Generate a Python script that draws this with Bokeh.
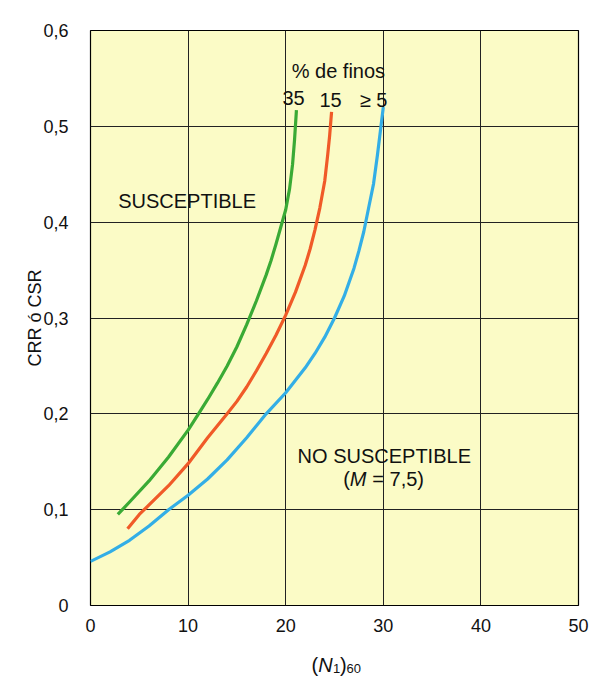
import numpy as np
from bokeh.plotting import figure
from bokeh.layouts import column
from bokeh.models import FixedTicker, Label, Range1d
from bokeh.core.properties import value
from bokeh.embed import file_html
from bokeh.resources import INLINE

# ---- data ----
n_clean = [0, 2, 4, 6, 8, 10, 12, 14, 16, 18, 20, 21, 22, 23, 24, 25, 26, 27,
           27.5, 28, 28.5, 29, 29.4, 29.7, 30]
crr_clean = [0.046, 0.056, 0.068, 0.083, 0.100, 0.115, 0.132, 0.152, 0.175, 0.200,
             0.222, 0.235, 0.248, 0.263, 0.280, 0.300, 0.323, 0.352,
             0.370, 0.390, 0.415, 0.440, 0.470, 0.495, 0.520]

n_15 = [3.8, 5, 6, 8, 10, 12, 14, 15, 16, 17, 18, 19, 20, 21, 22, 22.5, 23, 23.5,
        24, 24.3, 24.5, 24.7]
crr_15 = [0.080, 0.095, 0.105, 0.125, 0.148, 0.175, 0.200, 0.213, 0.228, 0.245,
          0.263, 0.282, 0.303, 0.327, 0.355, 0.372, 0.392, 0.415,
          0.443, 0.470, 0.490, 0.515]

n_35 = [2.8, 4, 6, 8, 10, 11, 12, 13, 14, 15, 16, 17, 18, 18.5, 19, 19.5, 20,
        20.4, 20.7, 20.9, 21.1]
crr_35 = [0.095, 0.108, 0.130, 0.155, 0.183, 0.199, 0.215, 0.232, 0.250, 0.270,
          0.293, 0.318, 0.345, 0.360, 0.377, 0.395, 0.413,
          0.435, 0.460, 0.485, 0.517]

x_ticks = [0, 10, 20, 30, 40, 50]
y_ticks = [0, 0.1, 0.2, 0.3, 0.4, 0.5, 0.6]
y_tick_labels = ["0", "0,1", "0,2", "0,3", "0,4", "0,5", "0,6"]

FONT = "Liberation Sans"
INK = "#111111"

p = figure(width=591, height=636, output_backend="svg", toolbar_location=None,
           x_range=Range1d(0, 50), y_range=Range1d(0, 0.6),
           min_border_left=90, min_border_right=13, min_border_top=30, min_border_bottom=31)
p.background_fill_color = "#FBFBC6"
p.border_fill_color = "white"
p.outline_line_color = "black"
p.outline_line_width = 1.2

for ax in (p.xaxis[0], p.yaxis[0]):
    ax.major_tick_line_color = None
    ax.minor_tick_line_color = None
    ax.axis_line_color = None
    ax.major_label_text_font = FONT
    ax.major_label_text_font_size = "18px"
    ax.major_label_text_color = INK

p.xaxis.ticker = FixedTicker(ticks=x_ticks)
p.yaxis.ticker = FixedTicker(ticks=y_ticks)
p.yaxis.major_label_overrides = {t: l for t, l in zip(y_ticks, y_tick_labels)}
p.xaxis.major_label_standoff = 7
p.yaxis.major_label_standoff = 16

p.yaxis.axis_label = "CRR \u00f3 CSR"
p.yaxis.axis_label_text_font = FONT
p.yaxis.axis_label_text_font_size = "18px"
p.yaxis.axis_label_text_font_style = "normal"
p.yaxis.axis_label_text_color = INK
p.yaxis.axis_label_standoff = -5

p.xgrid.ticker = FixedTicker(ticks=x_ticks)
p.ygrid.ticker = FixedTicker(ticks=y_ticks)
p.grid.grid_line_color = "#222222"
p.grid.grid_line_width = 1
p.grid.grid_line_alpha = 1

p.line(n_clean, crr_clean, line_color="#33AEE6", line_width=3.2, line_join="round")
p.line(n_15, crr_15, line_color="#F05A28", line_width=3.2, line_join="round")
p.line(n_35, crr_35, line_color="#3AAA35", line_width=3.2, line_join="round")

def lab(x, y, text, size="20px", style="normal", align="center", baseline="middle",
        xo=0, yo=0):
    p.add_layout(Label(x=x, y=y, text=text, text_font=FONT, text_font_size=size,
                       text_font_style=style, text_align=align, text_baseline=baseline,
                       x_offset=xo, y_offset=yo, text_color=INK))

lab(25.4, 0.558, "% de finos")
lab(20.8, 0.530, "35")
lab(24.6, 0.527, "15")
lab(29.0, 0.527, "\u2265 5")
lab(9.9, 0.4226, "SUSCEPTIBLE")
lab(30.1, 0.1565, "NO SUSCEPTIBLE")
# (M = 7,5)
lab(30.1, 0.1325, "(", align="left", xo=-41)
lab(30.1, 0.1325, "M", style="italic", align="left", xo=-34.5)
lab(30.1, 0.1325, "= 7,5)", align="left", xo=-12)

# ---- x-axis title strip: (N1)60 ----
p2 = figure(width=591, height=40, output_backend="svg", toolbar_location=None,
            x_range=Range1d(0, 50), y_range=Range1d(0, 1),
            x_axis_type=None, y_axis_type=None,
            min_border_left=90, min_border_right=13, min_border_top=0, min_border_bottom=0)
p2.outline_line_color = None
p2.background_fill_color = "white"
p2.border_fill_color = "white"
p2.grid.visible = False

title_x = [25]
base_y = 0.30
sub_y = 0.20
def t2(text, xo, y, size, style="normal"):
    p2.text(x=title_x, y=[y], text=[text], x_offset=xo, text_font=value(FONT),
            text_font_size=size, text_font_style=style, text_align="left",
            text_baseline="alphabetic", text_color=INK)

t2("(", -23, base_y, "20px")
t2("N", -16.3, base_y, "20px", "italic")
t2("1", -1.5, sub_y, "13px")
t2(")", 5.5, base_y, "20px")
t2("60", 12, sub_y, "13px")

layout = column(p, p2, spacing=0)
open("out.html", "w").write(file_html(layout, INLINE))
